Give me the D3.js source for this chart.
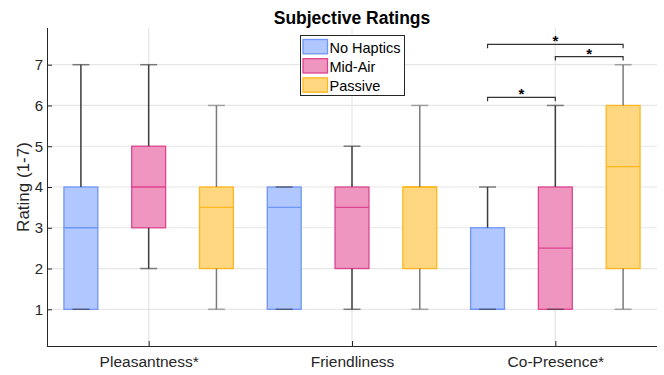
<!DOCTYPE html>
<html><head><meta charset="utf-8">
<script src="https://cdn.jsdelivr.net/npm/d3@7"></script>
<style>body{margin:0;background:#fff}svg{display:block}text{font-family:"Liberation Sans",Arial,sans-serif}</style>
</head><body><svg id="c" width="664" height="375"></svg>
<script>
const categories = ["Pleasantness*", "Friendliness", "Co-Presence*"];
const seriesNames = ["No Haptics", "Mid-Air", "Passive"];
// [min, q1, median, q3, max] per category
const noHaptics = [[1,1,3,4,7],[1,1,3.5,4,4],[1,1,1,3,4]];
const midAir    = [[2,3,4,5,7],[1,2,3.5,4,5],[1,1,2.5,4,6]];
const passive   = [[1,2,3.5,4,6],[1,2,4,4,6],[1,2,4.5,6,7]];
const yTicks = [1,2,3,4,5,6,7];
// significance brackets in Co-Presence: [seriesA, seriesB, level]
const sigCategory = 2;
const sigPairs = [[0,2,7.5],[1,2,7.2],[0,1,6.2]];

const series = [noHaptics, midAir, passive];
const fills = ["#b0c8ff","#ee95c0","#ffd780"];
const strokes = ["#6f95f6","#e0438f","#ffb71f"];
const whisk = ["#3c3c3c","#3c3c3c","#7a7a7a"];

const svg = d3.select("#c");
const L=47,R=657,T=28,B=346;
const x = d3.scaleLinear().domain([0.5,3.5]).range([L,R]);
const y = d3.scaleLinear().domain([0.1,7.9]).range([B,T]);
const off = [-1/3,0,1/3];
const bw = x(1+1/12)-x(1-1/12);
const TXT="#262626";

// grid
const g = svg.append("g");
g.selectAll(".hg").data(yTicks).join("line").attr("x1",L).attr("x2",R)
 .attr("y1",d=>y(d)).attr("y2",d=>y(d)).attr("stroke","#e6e6e6").attr("stroke-width",1.2);
g.selectAll(".vg").data(categories).join("line").attr("y1",T).attr("y2",B)
 .attr("x1",(d,i)=>x(i+1)).attr("x2",(d,i)=>x(i+1)).attr("stroke","#e6e6e6").attr("stroke-width",1.2);

// boxes
series.forEach((s,si)=>{
  s.forEach((v,ci)=>{
    const cx = x(ci+1+off[si]);
    const [mn,q1,md,q3,mx]=v;
    const gg = svg.append("g");
    gg.append("rect").attr("x",cx-bw/2).attr("width",bw).attr("y",y(q3)).attr("height",y(q1)-y(q3))
      .attr("fill",fills[si]).attr("stroke",strokes[si]).attr("stroke-width",1.3);
    gg.append("line").attr("x1",cx-bw/2).attr("x2",cx+bw/2).attr("y1",y(md)).attr("y2",y(md))
      .attr("stroke",strokes[si]).attr("stroke-width",1.3);
    [[q3,mx],[q1,mn]].forEach(([a,b])=>{
      if(a!==b) gg.append("line").attr("x1",cx).attr("x2",cx).attr("y1",y(a)).attr("y2",y(b))
        .attr("stroke",whisk[si]).attr("stroke-width",1.5);
      gg.append("line").attr("x1",cx-bw/4).attr("x2",cx+bw/4).attr("y1",y(b)).attr("y2",y(b))
        .attr("stroke",whisk[si]).attr("stroke-width",1.5).attr("stroke-opacity",0.65);
    });
  });
});

// significance brackets
sigPairs.forEach(([a,b,lev])=>{
  const xa=x(sigCategory+1+off[a]), xb=x(sigCategory+1+off[b]), yy=y(lev);
  svg.append("path").attr("d",`M${xa},${yy+4}V${yy}H${xb}V${yy+4}`).attr("fill","none")
    .attr("stroke","#333").attr("stroke-width",1.2);
  svg.append("text").attr("x",(xa+xb)/2).attr("y",yy+2).attr("text-anchor","middle")
    .attr("font-size",15).attr("font-weight","bold").attr("fill","#000").text("*");
});

// axes
const yAx = d3.axisLeft(y).tickValues(yTicks).tickSize(-5).tickPadding(4).tickFormat(d3.format("d"));
const ya = svg.append("g").attr("transform",`translate(${L},0)`).call(yAx);
ya.select(".domain").attr("d",`M0.5,${T}V${B}`).attr("stroke",TXT).attr("stroke-width",1);
ya.selectAll(".tick line").attr("stroke",TXT);
ya.selectAll("text").attr("font-size",15).attr("fill",TXT).attr("font-family","Liberation Sans, Arial, sans-serif");
const xAx = d3.axisBottom(x).tickValues([1,2,3]).tickSize(-5).tickPadding(10).tickFormat(d=>categories[d-1]);
const xa = svg.append("g").attr("transform",`translate(0,${B})`).call(xAx);
xa.select(".domain").attr("d",`M${L},0.5H${R}`).attr("stroke",TXT).attr("stroke-width",1);
xa.selectAll(".tick line").attr("stroke",TXT);
xa.selectAll("text").attr("font-size",15.5).attr("fill",TXT).attr("font-family","Liberation Sans, Arial, sans-serif");

// labels
svg.append("text").attr("x",(L+R)/2).attr("y",24).attr("text-anchor","middle")
  .attr("font-size",17.5).attr("font-weight","bold").attr("fill","#000").text("Subjective Ratings");
svg.append("text").attr("transform",`translate(29,${(T+B)/2}) rotate(-90)`).attr("text-anchor","middle")
  .attr("font-size",17).attr("fill",TXT).text("Rating (1-7)");

// legend
const lg = svg.append("g");
lg.append("rect").attr("x",300.5).attr("y",35.5).attr("width",104).attr("height",60)
  .attr("fill","#fff").attr("stroke",TXT).attr("stroke-width",1);
seriesNames.forEach((n,i)=>{
  const yy = 39.5 + i*19.2;
  lg.append("rect").attr("x",303).attr("y",yy).attr("width",24.5).attr("height",14.3)
    .attr("fill",fills[i]).attr("stroke",strokes[i]).attr("stroke-width",1.3);
  lg.append("text").attr("x",329.5).attr("y",yy+13).attr("font-size",14.5).attr("fill","#000").text(n);
});
</script></body></html>
